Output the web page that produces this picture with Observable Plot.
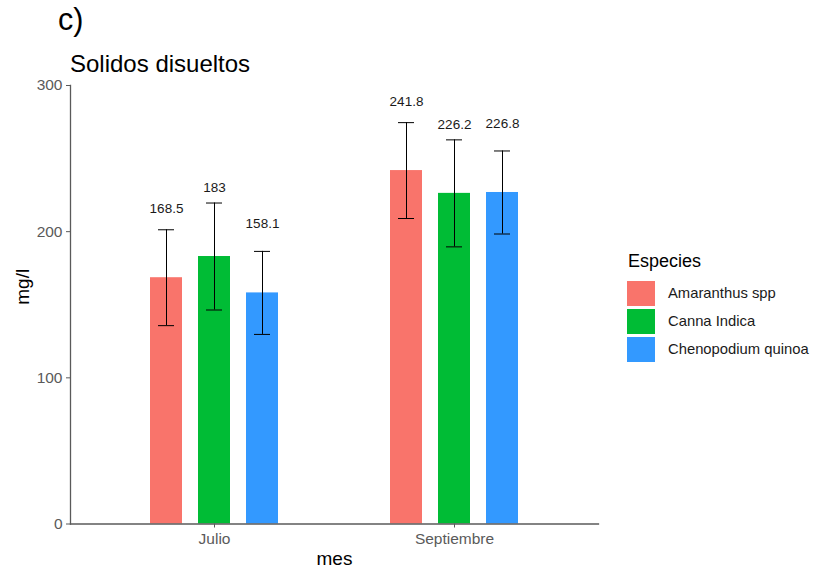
<!DOCTYPE html>
<html>
<head>
<meta charset="utf-8">
<script src="https://cdn.jsdelivr.net/npm/d3@7"></script>
<script src="https://cdn.jsdelivr.net/npm/@observablehq/plot@0.6"></script>
<style>
  html, body { margin: 0; padding: 0; background: #fff; }
  #wrap { position: relative; width: 816px; height: 572px; overflow: hidden;
          font-family: "Liberation Sans", Arial, sans-serif; color: #000; }
  #wrap svg { position: absolute; left: 0; top: 0; }
  .abs { position: absolute; line-height: 1; white-space: nowrap; }
  #panel { left: 58px; top: 4px; font-size: 30.5px; }
  #title { left: 70px; top: 52.4px; font-size: 24px; }
  #legend { left: 627px; top: 251.5px; }
  #legend .lt { font-size: 18px; line-height: 1; margin-bottom: 10px; margin-left: 1px; }
  #legend .item { display: flex; align-items: center; height: 28px; }
  #legend .key { width: 28px; height: 25px; margin-right: 13px; }
  #legend .lab { font-size: 14.8px; color: #1a1a1a; }
</style>
</head>
<body>
<div id="wrap">
  <div class="abs" id="panel">c)</div>
  <div class="abs" id="title">Solidos disueltos</div>
  <div class="abs" id="legend"></div>
</div>
<script>
// Sampling months and species
const meses = ["Julio", "Septiembre"];
const especies = ["Amaranthus spp", "Canna Indica", "Chenopodium quinoa"];

// Mean dissolved solids (mg/l) per species, by month
const mediaJulio = [168.5, 183, 158.1];
const mediaSeptiembre = [241.8, 226.2, 226.8];

// Error bar half-widths (mg/l)
const errorJulio = [32.8, 36.6, 28.4];
const errorSeptiembre = [32.8, 36.6, 28.4];

// Y axis ticks
const ticksY = [0, 100, 200, 300];

const colores = ["#F9746B", "#00BC35", "#3399FF"];

// Dodged layout on a continuous x: months sit at 1, 2, ...;
// each species takes a slot of width `paso` inside its month group.
const paso = 0.2;          // slot width (month units)
const anchoBarra = 2 / 15; // bar width (month units)
const anchoTapa = 1 / 15;  // error-bar cap width (month units)

// Long table built from the arrays above
const datos = [];
meses.forEach((m, j) => {
  const medias = j === 0 ? mediaJulio : mediaSeptiembre;
  const errores = j === 0 ? errorJulio : errorSeptiembre;
  especies.forEach((e, i) => {
    datos.push({
      mes: m, especie: e, valor: medias[i], error: errores[i],
      pos: (j + 1) + (i - (especies.length - 1) / 2) * paso
    });
  });
});

const gris = "#5a5a5a";

const chart = Plot.plot({
  width: 816,
  height: 572,
  marginTop: 85,
  marginBottom: 48.5,
  marginLeft: 70,
  marginRight: 218,
  style: {fontFamily: "'Liberation Sans', Arial, sans-serif", background: "transparent"},
  x: {type: "linear", domain: [0.4, meses.length + 0.6], label: null},
  y: {domain: [0, 300], label: null},
  color: {domain: especies, range: colores},
  marks: [
    Plot.rectY(datos, {
      x1: d => d.pos - anchoBarra / 2, x2: d => d.pos + anchoBarra / 2,
      y: "valor", fill: "especie"
    }),
    Plot.ruleX(datos, {
      x: "pos", y1: d => d.valor - d.error, y2: d => d.valor + d.error,
      stroke: "#000", strokeWidth: 1
    }),
    Plot.ruleY(datos, {
      x1: d => d.pos - anchoTapa / 2, x2: d => d.pos + anchoTapa / 2,
      y: d => d.valor + d.error, stroke: "#000", strokeWidth: 1
    }),
    Plot.ruleY(datos, {
      x1: d => d.pos - anchoTapa / 2, x2: d => d.pos + anchoTapa / 2,
      y: d => d.valor - d.error, stroke: "#000", strokeWidth: 1
    }),
    Plot.text(datos, {
      x: "pos", y: "valor",
      text: d => String(d.valor),
      dy: -69, lineAnchor: "middle", fontSize: 13.5, fill: "#1a1a1a"
    }),
    // Axis lines along the bottom and left edges of the panel
    Plot.frame({anchor: "bottom", stroke: gris, strokeWidth: 1.3}),
    Plot.frame({anchor: "left", stroke: gris, strokeWidth: 1.3}),
    Plot.axisY({ticks: ticksY, tickSize: 4, tickPadding: 4, fontSize: 15.5, color: gris, label: null}),
    Plot.axisX({
      ticks: meses.map((m, j) => j + 1),
      tickFormat: v => meses[v - 1],
      tickSize: 4, tickPadding: 5, fontSize: 15.5, color: gris, label: null
    }),
    Plot.text(["mg/l"], {
      frameAnchor: "left", dx: -48, rotate: -90, fontSize: 19, fill: "#000"
    }),
    Plot.text(["mes"], {
      frameAnchor: "bottom", lineAnchor: "middle", dy: 35.4, fontSize: 19, fill: "#000"
    })
  ]
});

document.getElementById("wrap").insertBefore(chart, document.getElementById("panel"));

// Legend for species
const legend = d3.select("#legend");
legend.append("div").attr("class", "lt").text("Especies");
especies.forEach((e, i) => {
  const row = legend.append("div").attr("class", "item");
  row.append("div").attr("class", "key").style("background", colores[i]);
  row.append("div").attr("class", "lab").text(e);
});
</script>
</body>
</html>
